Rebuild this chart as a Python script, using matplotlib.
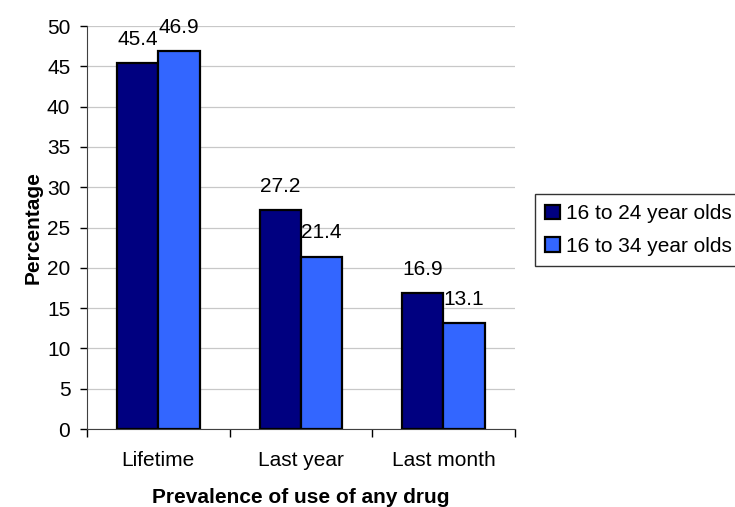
import matplotlib.pyplot as plt
import numpy as np

plt.rcParams['font.family'] = ['Liberation Sans', 'DejaVu Sans']

categories = ['Lifetime', 'Last year', 'Last month']
ages_16_24 = [45.4, 27.2, 16.9]
ages_16_34 = [46.9, 21.4, 13.1]
series_names = ['16 to 24 year olds', '16 to 34 year olds']

fs = 15

fig = plt.figure(figsize=(7.35, 5.07), dpi=100)
ax = fig.add_axes([0.1184, 0.1538, 0.582, 0.7949])

x = np.arange(len(categories))
w = 0.29
b1 = ax.bar(x - w / 2, ages_16_24, w, color='#000080', edgecolor='black', linewidth=1.6,
            label=series_names[0], zorder=3)
b2 = ax.bar(x + w / 2, ages_16_34, w, color='#3366FF', edgecolor='black', linewidth=1.6,
            label=series_names[1], zorder=3)

for bars, vals in [(b1, ages_16_24), (b2, ages_16_34)]:
    for r, v in zip(bars, vals):
        ax.annotate(f'{v}', (r.get_x() + r.get_width() / 2, v), xytext=(0, 13),
                    textcoords='offset points', ha='center', va='baseline', fontsize=fs)

ax.set_xlim(-0.5, 2.5)
ax.set_ylim(0, 50)
ax.set_yticks(range(0, 51, 5))
ax.yaxis.grid(True, color='#C8C8C8', linewidth=0.9, zorder=0)
ax.set_xticks(x)
ax.set_xticklabels(categories)
ax.set_xticks([-0.5, 0.5, 1.5, 2.5], minor=True)
ax.tick_params(axis='x', which='major', length=0, pad=16, labelsize=fs)
ax.tick_params(axis='x', which='minor', length=6, width=1)
ax.tick_params(axis='y', length=5, width=1, labelsize=fs, pad=7)

for s in ['top', 'right']:
    ax.spines[s].set_visible(False)
for s in ['left', 'bottom']:
    ax.spines[s].set_color('#404040')

ax.set_ylabel('Percentage', fontsize=fs, fontweight='bold', labelpad=3)
ax.set_xlabel('Prevalence of use of any drug', fontsize=fs, fontweight='bold', labelpad=13)

leg = fig.legend(handles=[b1, b2], loc='upper left', bbox_to_anchor=(535 / 735, 1 - 194 / 507),
                 borderaxespad=0, fontsize=fs, frameon=True, fancybox=False,
                 handlelength=0.7, handleheight=0.7, handletextpad=0.3, borderpad=0.5,
                 labelspacing=0.64)
leg.get_frame().set_edgecolor('black')
leg.get_frame().set_linewidth(1)

fig.savefig('out.png', dpi=100)
